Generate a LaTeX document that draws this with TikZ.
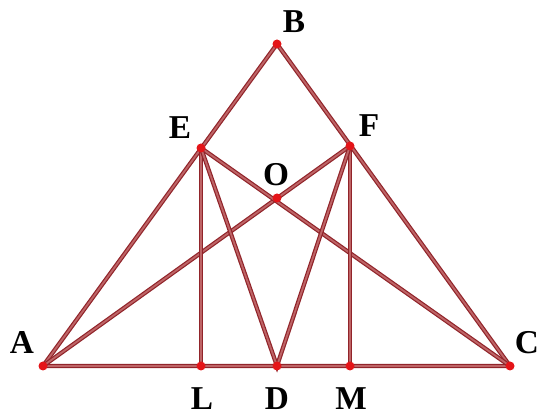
\documentclass[tikz,border=0pt]{standalone}
\usepackage{fontspec}
\setmainfont{Liberation Serif}
\usepackage{tikz}

\definecolor{edgered}{RGB}{145,36,42}
\definecolor{edgefill}{RGB}{190,100,102}
\definecolor{ptred}{RGB}{228,20,24}

\begin{document}
\begin{tikzpicture}[x=0.75pt, y=-0.75pt,
	every node/.style={font=\fontsize{25}{28}\selectfont\bfseries},
	seg/.style={draw=edgered, line width=0.9pt, double=edgefill, double distance=1.4pt},
	pt/.style={fill=ptred}]
	\useasboundingbox (0,0) rectangle (540,416);
	% vertices and feet
	\coordinate (A) at (43,366);
	\coordinate (B) at (277,44);
	\coordinate (C) at (510,366);
	\coordinate (E) at (201,148);
	\coordinate (F) at (350,146);
	\coordinate (O) at (277,198);
	\coordinate (L) at (201,366);
	\coordinate (D) at (277,366);
	\coordinate (M) at (350,366);
	% sides
	\draw[seg] (A) -- (B) -- (C) -- cycle;
	% cevians
	\draw[seg] (A) -- (F);
	\draw[seg] (C) -- (E);
	\draw[seg] (E) -- (L);
	\draw[seg] (F) -- (M);
	\draw[seg] (E) -- (D) -- (F);
	% points
	\foreach \p in {A,B,C,E,F,O,L,D,M}
		\fill[pt] (\p) circle (4.5);
	% labels
	\node (lA) at (22,343) {A};
	\node (lB) at (294,22) {B};
	\node (lC) at (527,343) {C};
	\node (lE) at (180,128) {E};
	\node (lF) at (369,126) {F};
	\node (lO) at (276,175) {O};
	\node (lL) at (202,399) {L};
	\node (lD) at (277,399) {D};
	\node (lM) at (351,399) {M};
\end{tikzpicture}
\end{document}
